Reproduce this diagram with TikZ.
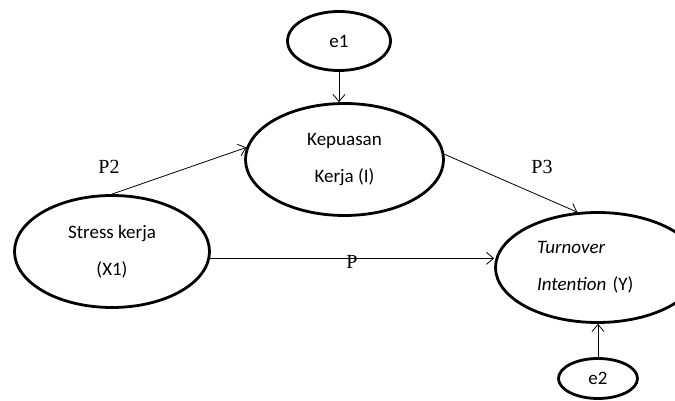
\documentclass[tikz,border=0pt]{standalone}
\usepackage{fontspec}
\setmainfont{Carlito}
\newfontfamily\coeffont{Liberation Serif}
\usepackage{tikz}
\usetikzlibrary{shapes,arrows.meta,calc}

\begin{document}
\begin{tikzpicture}[x=1pt,y=-1pt]
      \tikzset{latent/.style={ellipse,
          draw=black,
          line width=2.8pt,
          inner sep=0pt,
          align=center,
          font=\fontsize{19}{37}\selectfont},
        link/.style={line width=0.8pt,
          -{Straight Barb[length=7pt,width=12pt]}},
        coef/.style={font=\coeffont\fontsize{20}{24}\selectfont}
      }
      \useasboundingbox (0,0) rectangle (675,401);
      \clip (0,0) rectangle (675,401);
      \node [latent,minimum width=103pt,minimum height=59pt] (e1) at (339,41) {e1};
      \node [latent,minimum width=198pt,minimum height=112pt] (kepuasan) at (344.5,159.5) {Kepuasan\\Kerja (I)};
      \node [latent,minimum width=195pt,minimum height=112pt] (stress) at (112,251.5) {Stress kerja\\(X1)};
      \node [latent,minimum width=204pt,minimum height=110pt,text width=121pt,align=left] (turnover) at (597.5,267.5) {\textit{Turnover}\\\textit{Intention} (Y)};
      \node [latent,minimum width=79pt,minimum height=40pt] (e2) at (598,378.5) {e2};
      \draw [link] (e1.south) -- (e1.south |- kepuasan.north);
      \draw [link] (stress.north) -- (kepuasan.173);
      \draw [link] (kepuasan.3) -- (turnover.110);
      \draw [link] (stress.-4) -- (stress.-4 -| turnover.west);
      \draw [link] (e2.north) -- (e2.north |- turnover.south);
      \node [coef] (p2) at (109,167) {P2};
      \node [coef] (p3) at (542,167) {P3};
      \node [coef] (p) at (352,262) {P};
    \end{tikzpicture}
\end{document}
